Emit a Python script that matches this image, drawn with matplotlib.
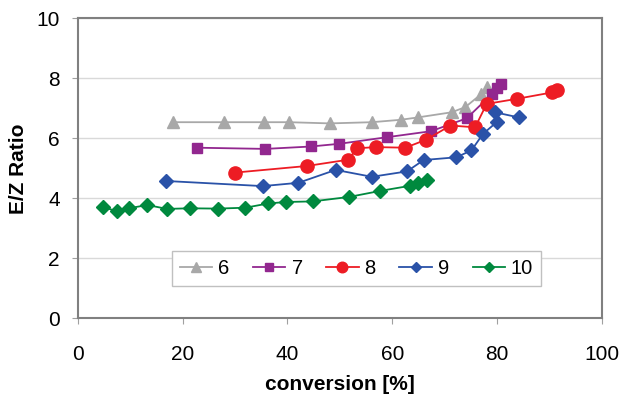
import matplotlib
matplotlib.use('Agg')
from matplotlib import pyplot as plt

plt.rcParams['font.family'] = ['Liberation Sans', 'DejaVu Sans']

# conversion [%] and E/Z ratio for each series
x6 = [18.1, 27.9, 35.5, 40.3, 48.1, 56.1, 61.6, 64.9, 71.3, 73.9, 77.0, 78.0]
y6 = [6.54, 6.54, 6.54, 6.54, 6.50, 6.54, 6.62, 6.70, 6.87, 7.04, 7.48, 7.72]

x7 = [22.7, 35.8, 44.5, 49.9, 59.0, 67.4, 74.2, 79.0, 79.9, 80.8]
y7 = [5.69, 5.65, 5.73, 5.82, 6.04, 6.24, 6.67, 7.48, 7.68, 7.81]

x8 = [30.0, 43.7, 51.6, 53.3, 56.8, 62.5, 66.5, 71.1, 75.8, 78.0, 83.8, 90.4, 91.4]
y8 = [4.86, 5.08, 5.29, 5.67, 5.71, 5.69, 5.96, 6.43, 6.37, 7.15, 7.32, 7.53, 7.61]

x9 = [16.9, 35.3, 42.1, 49.2, 56.1, 62.8, 66.0, 72.2, 75.1, 77.3, 79.9, 79.6, 84.1]
y9 = [4.58, 4.41, 4.52, 4.95, 4.72, 4.90, 5.28, 5.37, 5.60, 6.15, 6.54, 6.87, 6.70]

x10 = [4.9, 7.5, 9.7, 13.3, 17.0, 21.4, 26.7, 32.0, 36.3, 39.7, 44.8, 51.8, 57.7,
       63.4, 64.9, 66.7]
y10 = [3.71, 3.57, 3.67, 3.78, 3.65, 3.67, 3.66, 3.69, 3.83, 3.88, 3.90, 4.05, 4.25,
       4.42, 4.50, 4.61]

fig = plt.figure(figsize=(6.23, 4.0), dpi=100)
ax = fig.add_axes([0.1247, 0.204, 0.8416, 0.750])

ax.plot(x6, y6, color='#A8A8A8', marker='^', ms=9, lw=1.3, label='6')
ax.plot(x7, y7, color='#92278F', marker='s', ms=7, lw=1.3, label='7')
ax.plot(x8, y8, color='#ED1C24', marker='o', ms=9.5, lw=1.3, label='8')
ax.plot(x9, y9, color='#2A52A8', marker='D', ms=7, lw=1.3, label='9')
ax.plot(x10, y10, color='#00893E', marker='D', ms=7, lw=1.3, label='10')

# axes format
ax.set_xlim(0, 100)
ax.set_ylim(0, 10)
ax.set_xticks([0, 20, 40, 60, 80, 100])
ax.set_yticks([0, 2, 4, 6, 8, 10])
ax.yaxis.grid(True, color='#D9D9D9', lw=1)
ax.set_axisbelow(True)
for s in ax.spines.values():
    s.set_color('#808080')
    s.set_linewidth(1.5)
ax.tick_params(axis='both', direction='out', length=4, color='#A0A0A0',
               labelsize=15)
ax.tick_params(axis='x', pad=15)
ax.tick_params(axis='y', pad=9)
ax.set_xlabel('conversion [%]', fontsize=15, fontweight='bold', labelpad=8)
ax.set_ylabel('E/Z Ratio', fontsize=15, fontweight='bold', labelpad=6)

leg = ax.legend(ncol=5, loc='lower left', bbox_to_anchor=(0.18, 0.108, 0.704, 0.123),
                mode='expand', fontsize=14.5, handlelength=1.6, handletextpad=0.3,
                borderaxespad=0, fancybox=False, framealpha=1,
                edgecolor='#C0C0C0', markerscale=0.8)
leg.get_frame().set_linewidth(1)

fig.savefig('out.png', dpi=100)
